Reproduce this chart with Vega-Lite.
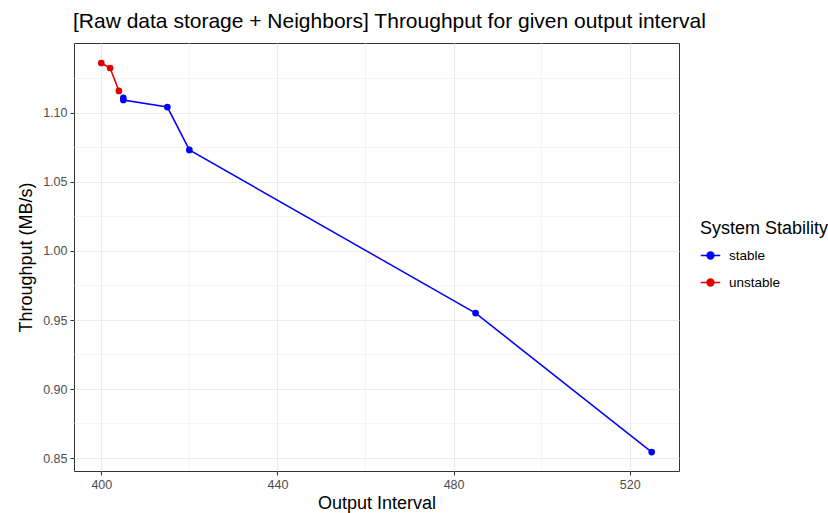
{
  "$schema": "https://vega.github.io/schema/vega-lite/v6.json",
  "autosize": "none",
  "width": 605,
  "height": 428,
  "padding": {"left": 74, "top": 43, "right": 149, "bottom": 42},
  "background": "white",
  "title": {
    "text": "[Raw data storage + Neighbors] Throughput for given output interval",
    "anchor": "start",
    "frame": "group",
    "font": "Liberation Sans",
    "fontSize": 21,
    "fontWeight": "normal",
    "color": "black",
    "offset": 11,
    "dx": -1
  },
  "config": {
    "view": {"stroke": "#333333", "strokeWidth": 1},
    "font": "Liberation Sans"
  },
  "data": {
    "values": [
      {"interval": 400, "throughput": 1.1362, "stability": "unstable"},
      {"interval": 402, "throughput": 1.1326, "stability": "unstable"},
      {"interval": 404, "throughput": 1.116, "stability": "unstable"},
      {"interval": 405, "throughput": 1.1109, "stability": "stable"},
      {"interval": 405, "throughput": 1.1094, "stability": "stable"},
      {"interval": 415, "throughput": 1.1043, "stability": "stable"},
      {"interval": 420, "throughput": 1.0732, "stability": "stable"},
      {"interval": 485, "throughput": 0.955, "stability": "stable"},
      {"interval": 525, "throughput": 0.8543, "stability": "stable"}
    ]
  },
  "layer": [
    {
      "mark": {"type": "rule", "color": "#EBEBEB", "strokeWidth": 0.55},
      "data": {"values": [{"v": 420}, {"v": 460}, {"v": 500}]},
      "encoding": {
        "x": {
          "field": "v", "type": "quantitative",
          "scale": {"domain": [393.8, 531.2], "nice": false, "zero": false},
          "axis": {
            "title": "Output Interval", "values": [400, 440, 480, 520],
            "grid": true, "gridColor": "#EBEBEB", "gridWidth": 1.1,
            "domain": false, "tickColor": "#333333", "tickSize": 4,
            "labelColor": "#4D4D4D", "labelFontSize": 12.5, "labelPadding": 3,
            "titleFontSize": 18, "titleFontWeight": "normal", "titleColor": "black", "titlePadding": 4
          }
        }
      }
    },
    {
      "mark": {"type": "rule", "color": "#EBEBEB", "strokeWidth": 0.55},
      "data": {"values": [{"v": 0.875}, {"v": 0.925}, {"v": 0.975}, {"v": 1.025}, {"v": 1.075}, {"v": 1.125}]},
      "encoding": {
        "y": {
          "field": "v", "type": "quantitative",
          "scale": {"domain": [0.8406, 1.1507], "nice": false, "zero": false},
          "axis": {
            "title": "Throughput (MB/s)", "values": [0.85, 0.9, 0.95, 1.0, 1.05, 1.1],
            "format": ".2f",
            "grid": true, "gridColor": "#EBEBEB", "gridWidth": 1.1,
            "domain": false, "tickColor": "#333333", "tickSize": 4,
            "labelColor": "#4D4D4D", "labelFontSize": 12.5, "labelPadding": 3,
            "titleFontSize": 18, "titleFontWeight": "normal", "titleColor": "black", "titlePadding": 7
          }
        }
      }
    },
    {
      "mark": {"type": "line", "strokeWidth": 1.5},
      "encoding": {
        "x": {"field": "interval", "type": "quantitative"},
        "y": {"field": "throughput", "type": "quantitative"},
        "color": {
          "field": "stability", "type": "nominal",
          "scale": {"domain": ["stable", "unstable"], "range": ["#0000FF", "#E00000"]},
          "legend": {
            "title": "System Stability",
            "orient": "none", "legendX": 626, "legendY": 177,
            "titleFontSize": 18, "titleFontWeight": "normal", "titleColor": "black",
            "labelFontSize": 13.5, "labelColor": "black",
            "symbolType": "M-1,0L1,0M-0.35,0A0.35,0.35 0 1,0 0.35,0A0.35,0.35 0 1,0 -0.35,0Z",
            "symbolSize": 380, "symbolStrokeWidth": 1.5,
            "rowPadding": 10, "titlePadding": 7, "labelOffset": 8
          }
        }
      }
    },
    {
      "mark": {"type": "point", "filled": true, "size": 45, "opacity": 1},
      "encoding": {
        "x": {"field": "interval", "type": "quantitative"},
        "y": {"field": "throughput", "type": "quantitative"},
        "color": {"field": "stability", "type": "nominal"}
      }
    }
  ]
}
